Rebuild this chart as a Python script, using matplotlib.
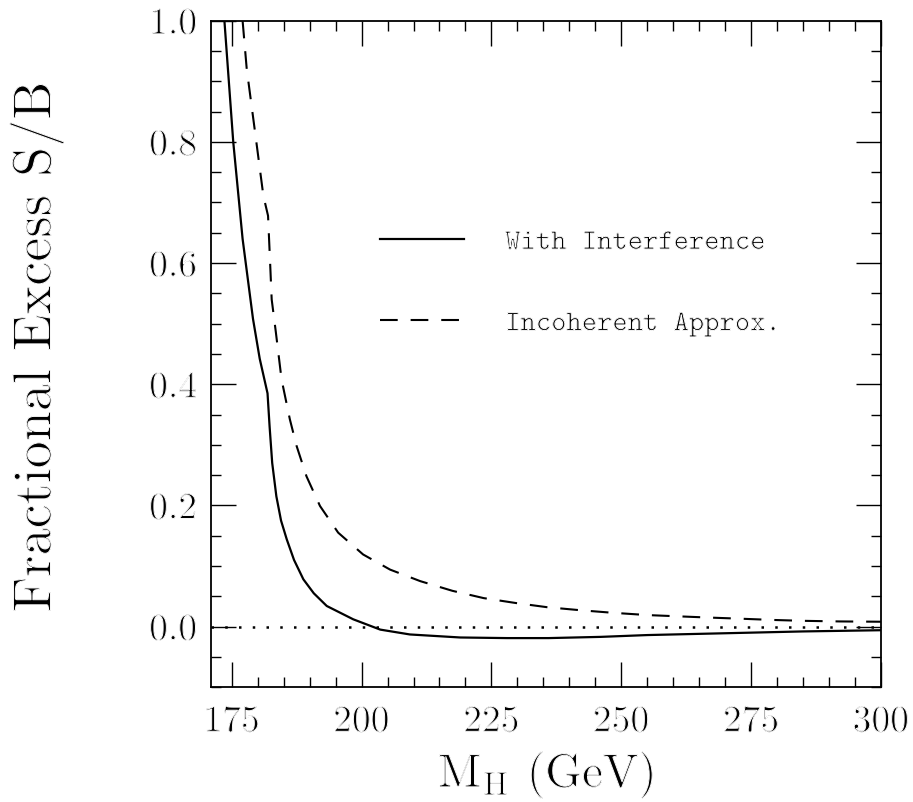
import matplotlib
matplotlib.use("Agg")
import matplotlib.pyplot as plt
import matplotlib.patheffects as pe
from matplotlib.ticker import MultipleLocator

# values
mh_interf = [173.6, 175.3, 177.1, 179.1, 180.4, 181.9, 182.3, 182.8, 183.6,
             184.5, 185.6, 187.0, 188.8, 190.8, 193.3, 198.4, 203.6, 209.3,
             219.0, 228.0, 236.0, 246.0, 255.0, 270.0, 285.0, 300.0]
sb_interf = [1.0, 0.80, 0.64, 0.508, 0.442, 0.385, 0.33, 0.27, 0.215,
             0.175, 0.144, 0.11, 0.078, 0.055, 0.034, 0.012, -0.005, -0.013,
             -0.018, -0.019, -0.019, -0.017, -0.014, -0.011, -0.008, -0.006]

mh_incoh = [177.1, 177.9, 179.5, 181.1, 182.0, 182.4, 182.7, 183.5, 184.6,
            186.2, 187.5, 189.4, 192.0, 195.5, 200.3, 205.5, 211.3, 217.5,
            223.5, 229.6, 235.7, 242.1, 248.0, 255.0, 266.5, 273.0, 279.0,
            285.0, 292.0, 300.0]
sb_incoh = [1.0, 0.92, 0.816, 0.711, 0.678, 0.60, 0.54, 0.486, 0.408,
            0.342, 0.298, 0.248, 0.199, 0.155, 0.119, 0.094, 0.075, 0.059,
            0.047, 0.039, 0.032, 0.027, 0.023, 0.019, 0.015, 0.013, 0.011,
            0.0095, 0.0085, 0.008]

labels = ["With Interference", "Incoherent Approx."]

plt.rcParams["font.family"] = "cmr10"
plt.rcParams["mathtext.fontset"] = "cm"
plt.rcParams["axes.formatter.use_mathtext"] = True

# thin the glyph strokes a little, the original lettering is very light
thin = [pe.Normal(), pe.Stroke(linewidth=0.7, foreground="white")]

fig = plt.figure(figsize=(9.13, 8.03), dpi=100)
ax = fig.add_axes([0.231, 0.143, 0.734, 0.830])

ax.plot(mh_interf, sb_interf, color="black", lw=1.6, label=labels[0])
ax.plot(mh_incoh, sb_incoh, color="black", lw=1.5, dashes=(8.5, 6.2), label=labels[1])
ax.axhline(0.0, color="black", lw=1.8, linestyle=(0, (1, 4.5)))

ax.set_xlim(171, 300)
ax.set_ylim(-0.1, 1.0)
ax.xaxis.set_major_locator(MultipleLocator(25))
ax.xaxis.set_minor_locator(MultipleLocator(5))
ax.yaxis.set_major_locator(MultipleLocator(0.2))
ax.yaxis.set_minor_locator(MultipleLocator(0.05))
ax.yaxis.set_major_formatter(plt.FuncFormatter(lambda v, p: f"{v:.1f}"))

ax.tick_params(which="both", direction="in", top=True, right=True, width=1.0)
ax.tick_params(which="major", length=18)
ax.tick_params(which="minor", length=7)
ax.tick_params(axis="x", labelsize=27, pad=13)
ax.tick_params(axis="y", labelsize=27, pad=10)
for s in ax.spines.values():
    s.set_linewidth(1.3)

xl = ax.set_xlabel(r"M$_\mathrm{H}$ (GeV)", fontsize=34)
ax.xaxis.set_label_coords(0.5, -0.094)
yl = ax.set_ylabel("Fractional Excess S/B", fontsize=39)
ax.yaxis.set_label_coords(-0.22, 0.51)

leg = ax.legend(loc="upper left", bbox_to_anchor=(0.252, 0.688), frameon=False,
                prop={"family": "cmtt10", "size": 21}, handlelength=2.9,
                handletextpad=1.4, labelspacing=1.85, borderpad=0, borderaxespad=0)

for t in ax.get_xticklabels() + ax.get_yticklabels() + [xl, yl] + leg.get_texts():
    t.set_path_effects(thin)

fig.savefig("out.png", dpi=100)
